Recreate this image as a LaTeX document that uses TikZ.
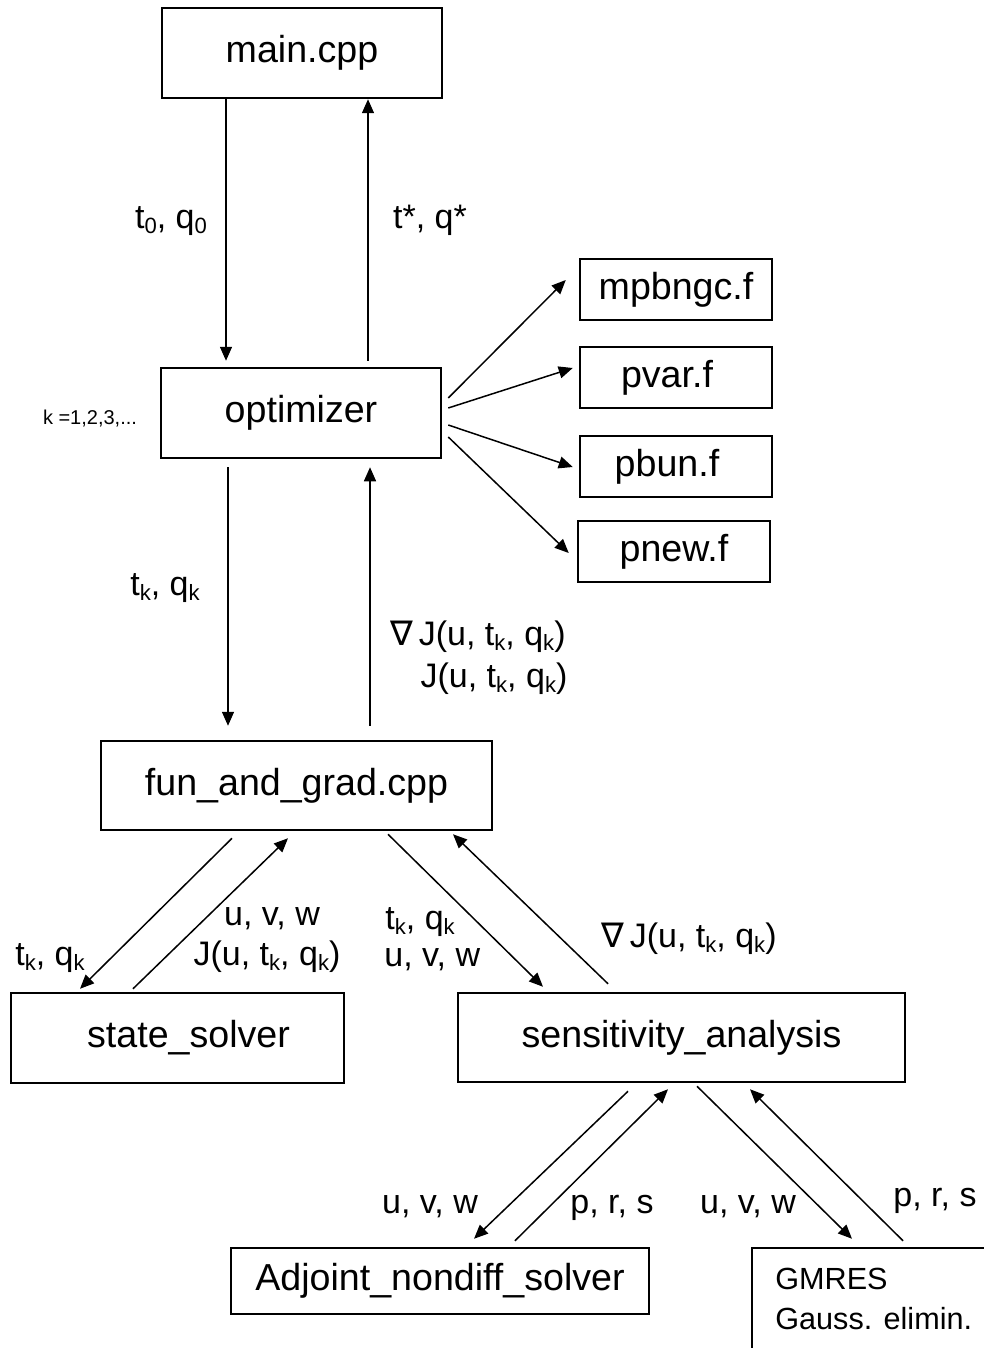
\documentclass[tikz,border=0pt]{standalone}
\usepackage{fontspec}
\setmainfont{Liberation Sans}
\newfontfamily\dejavu{DejaVu Sans}
\usetikzlibrary{arrows.meta,calc}
\newcommand\lo[1]{\raisebox{-0.15em}{\scalebox{0.65}{#1}}}
\newcommand\nab{{\dejavu\char"2207}}
\begin{document}
\begin{tikzpicture}[x=0.5pt,y=-0.5pt,
 box/.style={draw,line width=1.25pt,inner sep=0pt,font=\fontsize{18.8}{22}\selectfont},
 arr/.style={line width=0.75pt,-{Triangle[length=7pt,width=6pt]}},
 lab/.style={font=\fontsize{17}{20}\selectfont,inner sep=0pt,anchor=base}]
\useasboundingbox (0,0) rectangle (984,1348);
\clip (0,0) rectangle (984,1348);
% boxes
\node[box,minimum width=140pt,minimum height=45pt] (main) at (302,53) {main.cpp};
\node[box,minimum width=140pt,minimum height=45pt] (opt) at (301,413) {optimizer};
\node[box,minimum width=96pt,minimum height=30.5pt] (mpb) at (676,289.5) {mpbngc.f};
\node[box,minimum width=96pt,minimum height=30.5pt] (pvar) at (676,377.5) {pvar.f\kern9pt};
\node[box,minimum width=96pt,minimum height=30.5pt] (pbun) at (676,466.5) {pbun.f\kern9pt};
\node[box,minimum width=96pt,minimum height=30.5pt] (pnew) at (674,551.5) {pnew.f};
\node[box,minimum width=195.5pt,minimum height=44.5pt] (fun) at (296.5,785.5) {fun\_and\_grad.cpp};
\node[box,minimum width=166.5pt,minimum height=45pt] (state) at (177.5,1038) {\hspace{11pt}state\_solver};
\node[box,minimum width=223.5pt,minimum height=44.5pt] (sens) at (681.5,1037.5) {sensitivity\_analysis};
\node[box,minimum width=209pt,minimum height=33pt] (adj) at (440,1281) {Adjoint\_nondiff\_solver};
\node[box,minimum width=124pt,minimum height=61pt] (gmres) at (876,1309) {};
\node[font=\fontsize{15.3}{20}\selectfont,align=left,anchor=north west,inner sep=0pt] (gmrestext) at (775,1268) {GMRES\\Gauss. elimin.};
% arrows
\draw[arr] ($(main.south)+(-76,0)$) -- ($(opt.north)+(-75,-6)$);
\draw[arr] ($(opt.north)+(67,-6)$) -- ($(main.south)+(66,0)$);
\draw[arr] ($(opt.east)+(6,-15)$) -- ($(mpb.west)+(-13,-9.5)$);
\draw[arr] ($(opt.east)+(6,-5)$) -- ($(pvar.west)+(-6,-9.5)$);
\draw[arr] ($(opt.east)+(6,12)$) -- ($(pbun.west)+(-6,0.5)$);
\draw[arr] ($(opt.east)+(6,24)$) -- ($(pnew.west)+(-8,1.5)$);
\draw[arr] ($(opt.south)+(-73,8)$) -- ($(fun.north)+(-68.5,-14)$);
\draw[arr] ($(fun.north)+(73.5,-14)$) -- ($(opt.south)+(69,8)$);
\draw[arr] ($(fun.south)+(-64.5,7)$) -- ($(state.north)+(-97.5,-3)$);
\draw[arr] ($(state.north)+(-44.5,-3)$) -- ($(fun.south)+(-8.5,7)$);
\draw[arr] ($(fun.south)+(91.5,3)$) -- ($(sens.north)+(-138.5,-5)$);
\draw[arr] ($(sens.north)+(-73.5,-8)$) -- ($(fun.south)+(156.5,3)$);
\draw[arr] ($(sens.south)+(-53.5,8)$) -- ($(adj.north)+(34,-8)$);
\draw[arr] ($(adj.north)+(75,-6)$) -- ($(sens.south)+(-13.5,6)$);
\draw[arr] ($(sens.south)+(15.5,3)$) -- ($(gmres.north)+(-24,-8)$);
\draw[arr] ($(gmres.north)+(27,-6)$) -- ($(sens.south)+(68.5,6)$);
% labels
\node[lab] (l1) at (171,228) {t\lo{0}, q\lo{0}};
\node[lab] (l2) at (430,228) {t*, q*};
\node[lab,font=\fontsize{10}{12}\selectfont] (l3) at (90,424) {k =1,2,3,...};
\node[lab] (l4) at (165,595) {t\lo{k}, q\lo{k}};
\node[lab] (l5) at (478,645) {\nab\,J(u, t\lo{k}, q\lo{k})};
\node[lab] (l6) at (494,687) {J(u, t\lo{k}, q\lo{k})};
\node[lab] (l7) at (50,965) {t\lo{k}, q\lo{k}};
\node[lab] (l8) at (272,925) {u, v, w};
\node[lab] (l9) at (267,965) {J(u, t\lo{k}, q\lo{k})};
\node[lab,anchor=base west] (l10) at (385,929) {t\lo{k}, q\lo{k}};
\node[lab,anchor=base west] (l11) at (384,966) {u, v, w};
\node[lab] (l12) at (689,947) {\nab\,J(u, t\lo{k}, q\lo{k})};
\node[lab] (l13) at (430,1213) {u, v, w};
\node[lab] (l14) at (612,1213) {p, r, s};
\node[lab] (l15) at (748,1213) {u, v, w};
\node[lab] (l16) at (935,1206) {p, r, s};
\end{tikzpicture}
\end{document}
